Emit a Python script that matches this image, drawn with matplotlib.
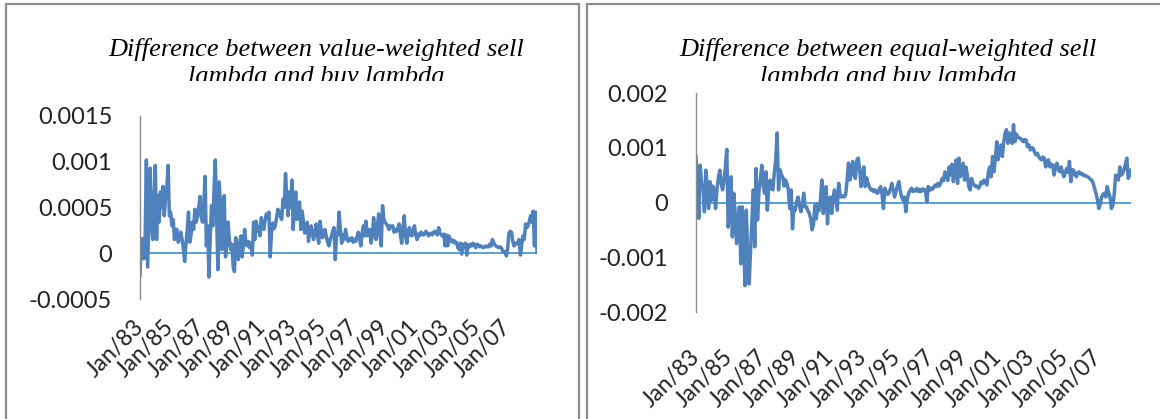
import numpy as np
import matplotlib.pyplot as plt
from matplotlib.patches import Rectangle
from matplotlib.transforms import Bbox, TransformedBbox

# monthly values, Jan 1983 - Dec 2008, in units of 1e-4
vw_diff = np.array([
    -2.4, 1.2, 1.6, -0.6, 1.5, 10.2, -1.5, 4.0, 9.3, 3.0, 1.5, 6.0,       # 1983
    9.6, 1.5, 6.3, 3.4, 6.7, 5.0, 7.3, 4.1, 6.0, 7.0, 9.6, 4.1,           # 1984
    4.5, 3.0, 3.7, 1.5, 2.6, 2.6, 1.2, 1.8, 2.3, 1.5, 0.5, -0.9,          # 1985
    1.0, 2.5, 4.5, 1.2, 2.0, 3.4, 2.6, 4.8, 3.4, 4.0, 5.0, 6.2,           # 1986
    4.0, 3.4, 5.5, 8.4, 0.8, 3.0, -2.6, 1.5, 5.2, 3.0, 7.0, 10.2,         # 1987
    4.0, -1.8, 7.8, 5.5, 0.4, 3.0, 6.3, -0.4, 1.0, 3.4, 1.5, 0.4,         # 1988
    1.0, -1.5, -2.0, 1.7, 0.5, -0.7, 1.0, 1.9, -0.4, 0.8, 2.6, 1.0,       # 1989
    0.8, 1.3, 0.6, 1.1, -0.2, 3.4, 1.5, 3.5, 2.4, 2.9, 1.9, 3.9,          # 1990
    3.0, 2.6, 3.6, 4.3, 3.8, 4.5, -0.4, 2.2, 3.3, 2.7, 3.0, 3.9,          # 1991
    4.8, 4.6, 4.0, 3.7, 5.9, 5.0, 8.7, 6.0, 4.1, 6.7, 5.0, 8.0,           # 1992
    2.6, 5.0, 6.7, 3.7, 4.5, 5.6, 2.6, 4.6, 3.5, 2.2, 3.0, 3.4,           # 1993
    1.3, 2.5, 3.0, 2.0, 1.5, 2.4, 3.2, 2.0, 1.1, 3.5, 2.5, 1.7,           # 1994
    2.2, 2.6, 1.8, 1.2, 0.8, 1.5, 1.9, 2.4, 2.8, -0.7, 2.2, 2.0,          # 1995
    4.5, 2.5, 1.1, 2.0, 1.5, 2.6, 1.8, 1.3, 1.6, 1.4, 1.7, 1.2,           # 1996
    1.5, 1.3, 1.8, 2.3, 1.6, 0.8, 2.2, 3.0, 1.9, 3.5, 1.9, 2.6,           # 1997
    2.6, 1.1, 1.9, 3.9, 2.5, 1.5, 3.0, 4.3, 2.0, 0.8, 5.2, 3.7,           # 1998
    3.4, 3.2, 3.0, 2.6, 3.0, 2.8, 3.0, 2.3, 2.6, 2.4, 2.8, 3.2,           # 1999
    2.0, 1.1, 2.8, 4.1, 2.0, 1.1, 2.2, 2.8, 2.0, 1.9, 2.6, 3.0,           # 2000
    2.0, 1.5, 2.1, 1.9, 2.3, 2.2, 2.0, 2.1, 2.4, 2.2, 1.9, 2.1,           # 2001
    2.2, 2.0, 2.3, 2.4, 2.2, 2.0, 2.8, 2.2, 2.0, 1.9, 2.1, 0.8,           # 2002
    2.0, 0.8, 1.9, 1.3, 1.5, 1.2, 1.4, 1.1, 1.2, 0.6, 0.4, 1.1,           # 2003
    -0.1, 1.0, 0.7, 1.1, -0.2, 0.9, 0.7, 1.0, 0.8, 1.1, 0.9, 0.6,         # 2004
    1.0, 0.9, 0.7, 0.8, 0.7, 0.6, 0.7, 0.8, 0.7, 0.7, 1.0, 0.8,           # 2005
    1.5, 1.2, 0.9, 0.8, 0.7, 0.6, 0.7, 0.6, 0.3, 0.1, 0.2, -0.3,          # 2006
    0.5, 2.2, 2.4, 2.3, 1.3, 0.8, 1.1, 1.0, 1.2, 1.5, -0.2, 0.9,          # 2007
    1.9, 1.5, 3.2, 2.8, 3.0, 3.5, 4.1, 3.4, 4.6, 0.8, 4.5, 0.1,           # 2008
]) * 1e-4

ew_diff = np.array([
    8.4, 4.0, -2.9, 6.8, 3.5, 2.9, -1.7, 5.9, 3.0, -1.1, 3.8, 0.4,        # 1983
    3.0, 2.0, -1.1, 2.5, 4.5, 5.9, 3.5, 2.3, 4.0, 6.5, 9.7, -4.5,         # 1984
    -2.0, 4.7, -6.3, 1.7, -2.0, -7.5, -4.0, -0.8, -11.2, -0.8, -6.0, -15.2,  # 1985
    -1.4, -10.0, -14.9, -8.8, -3.0, 2.3, -8.1, 6.2, -3.2, 2.0, 4.0, 6.8,  # 1986
    3.5, 1.7, 5.6, -1.4, 3.0, 4.1, 2.5, 2.3, 5.5, 7.8, 12.7, 2.3,         # 1987
    6.0, 5.0, 4.7, 3.0, 4.1, 3.5, 2.3, -1.1, 2.3, -4.8, -1.0, -1.4,       # 1988
    0.2, 1.0, -0.5, -1.7, -0.5, 1.7, -0.8, -0.8, -1.5, -2.0, -3.0, -5.0,  # 1989
    -4.0, -0.5, -3.0, -0.2, -1.5, 0.5, 4.1, -2.0, 1.0, 2.9, -3.9, 0.4,    # 1990
    1.0, -2.0, 0.8, 2.3, 0.5, -1.4, 3.5, 1.5, 1.0, 1.2, 1.0, 1.5,         # 1991
    4.0, 7.2, 4.1, 5.5, 7.5, 5.0, 4.4, 7.8, 8.1, 6.0, 2.9, 5.0,           # 1992
    6.5, 2.9, 4.5, 3.5, 2.8, 2.3, 2.4, 2.0, 2.3, 1.8, 1.7, 2.4,           # 1993
    2.9, 1.5, -1.1, 2.6, 2.0, 1.5, 1.7, 2.5, 3.5, 2.2, 1.0, 2.0,          # 1994
    3.0, 3.8, 2.2, 1.0, 0.4, 1.0, -1.7, 0.5, 1.7, 2.2, 2.6, 2.0,          # 1995
    2.3, 2.1, 2.6, 2.0, 2.4, 2.0, 2.5, 2.2, 2.3, 0.1, 2.9, 2.2,           # 1996
    2.6, 2.4, 2.8, 3.2, 2.9, 3.5, 3.0, 3.6, 4.4, 4.0, 5.6, 5.0,           # 1997
    4.0, 6.5, 5.0, 7.0, 3.8, 6.0, 7.8, 3.5, 8.1, 4.7, 6.0, 7.2,           # 1998
    4.1, 6.5, 5.0, 2.9, 2.3, 4.4, 3.5, 3.2, 2.9, 3.0, 2.6, 3.0,           # 1999
    3.8, 3.5, 4.1, 3.6, 3.2, 5.5, 6.5, 4.7, 8.4, 5.6, 8.0, 11.1,          # 2000
    7.8, 9.6, 10.5, 8.4, 11.0, 12.7, 13.3, 10.8, 12.7, 11.5, 10.8, 14.2,  # 2001
    11.1, 12.5, 12.0, 11.8, 11.7, 11.4, 11.1, 11.5, 11.4, 10.2, 10.5, 9.6,  # 2002
    10.0, 9.9, 9.2, 8.7, 9.0, 8.4, 8.0, 7.8, 8.3, 8.1, 6.5, 7.5,          # 2003
    7.8, 6.5, 7.0, 6.8, 5.0, 6.5, 7.2, 6.0, 5.6, 6.5, 5.5, 4.7,           # 2004
    5.5, 6.2, 5.5, 7.5, 3.8, 6.0, 5.9, 5.0, 4.7, 5.5, 5.6, 5.2,           # 2005
    5.3, 4.9, 5.0, 4.8, 4.7, 4.5, 4.2, 4.1, 3.5, 2.5, 1.7, 0.5,           # 2006
    -1.1, -0.3, 1.0, 1.5, 1.7, 1.0, 2.9, 1.8, 1.0, -1.1, -0.5, 1.5,       # 2007
    5.0, 4.5, 4.1, 6.5, 5.0, 5.3, 6.0, 7.0, 8.1, 4.4, 5.0, 5.9,           # 2008
]) * 1e-4

x_labels = ["Jan/83", "Jan/85", "Jan/87", "Jan/89", "Jan/91", "Jan/93", "Jan/95",
            "Jan/97", "Jan/99", "Jan/01", "Jan/03", "Jan/05", "Jan/07"]

vw_ticks = [-0.0005, 0, 0.0005, 0.001, 0.0015]
vw_tick_labels = ["-0.0005", "0", "0.0005", "0.001", "0.0015"]
ew_ticks = [-0.002, -0.001, 0, 0.001, 0.002]
ew_tick_labels = ["-0.002", "-0.001", "0", "0.001", "0.002"]

W, H = 1160, 419
LINE = "#4f81bd"
ZERO = "#4a9ad8"
FRAME = "#8c8c8c"
TICK_FONT = "Lato"
TITLE_FONT = "Liberation Serif"


def px(x0, y0, x1, y1):
    # pixel box (from top-left) -> figure fraction rect
    return [x0 / W, 1 - y1 / H, (x1 - x0) / W, (y1 - y0) / H]


fig = plt.figure(figsize=(W / 100, H / 100), dpi=100)

# panel frames
for (x0, x1) in [(6, 579), (587, 1175)]:
    fig.add_artist(Rectangle((x0 / W, -0.05), (x1 - x0) / W, 1.05 - 4 / H,
                             transform=fig.transFigure, fill=False,
                             edgecolor=FRAME, lw=1.6))


def draw_panel(box, series, ticks, tick_labels, title1, title2, title_x, xpad):
    ax = fig.add_axes(px(*box))
    x = np.arange(len(series))
    ax.axhline(0, color=ZERO, lw=1.3, zorder=1)
    ax.plot(x, series, color=LINE, lw=2.5, zorder=2, solid_joinstyle="round")
    ax.set_xlim(0, len(series) - 1)
    ax.set_ylim(ticks[0], ticks[-1])
    ax.set_yticks(ticks)
    ax.set_yticklabels(tick_labels, fontfamily=TICK_FONT, fontsize=17, color="#222222")
    ax.set_xticks(np.arange(0, len(series), 24))
    ax.set_xticklabels(x_labels, rotation=45, ha="right", va="center",
                       rotation_mode="anchor", fontfamily=TICK_FONT,
                       fontsize=16.5, color="#222222")
    for s in ["top", "right", "bottom"]:
        ax.spines[s].set_visible(False)
    ax.spines["left"].set_color(FRAME)
    ax.spines["left"].set_linewidth(1.0)
    ax.tick_params(axis="y", length=0, pad=20)
    ax.tick_params(axis="x", length=0, pad=xpad)
    ax.patch.set_alpha(0)

    fig.text(title_x / W, 1 - 56 / H, title1, ha="center", va="baseline",
             fontfamily=TITLE_FONT, style="italic", fontsize=19)
    t2 = fig.text(title_x / W, 1 - 83 / H, title2, ha="center", va="baseline",
                  fontfamily=TITLE_FONT, style="italic", fontsize=19, clip_on=True)
    t2.set_clip_box(TransformedBbox(Bbox([[0, 1 - 81 / H], [1, 1]]), fig.transFigure))
    return ax


draw_panel((140, 116, 537, 299), vw_diff, vw_ticks, vw_tick_labels,
           "Difference between value-weighted sell", "lambda and buy lambda", 316, 18)
draw_panel((696, 93, 1131, 312), ew_diff, ew_ticks, ew_tick_labels,
           "Difference between equal-weighted sell", "lambda and buy lambda", 888, 30)

fig.savefig("out.png", dpi=100)
